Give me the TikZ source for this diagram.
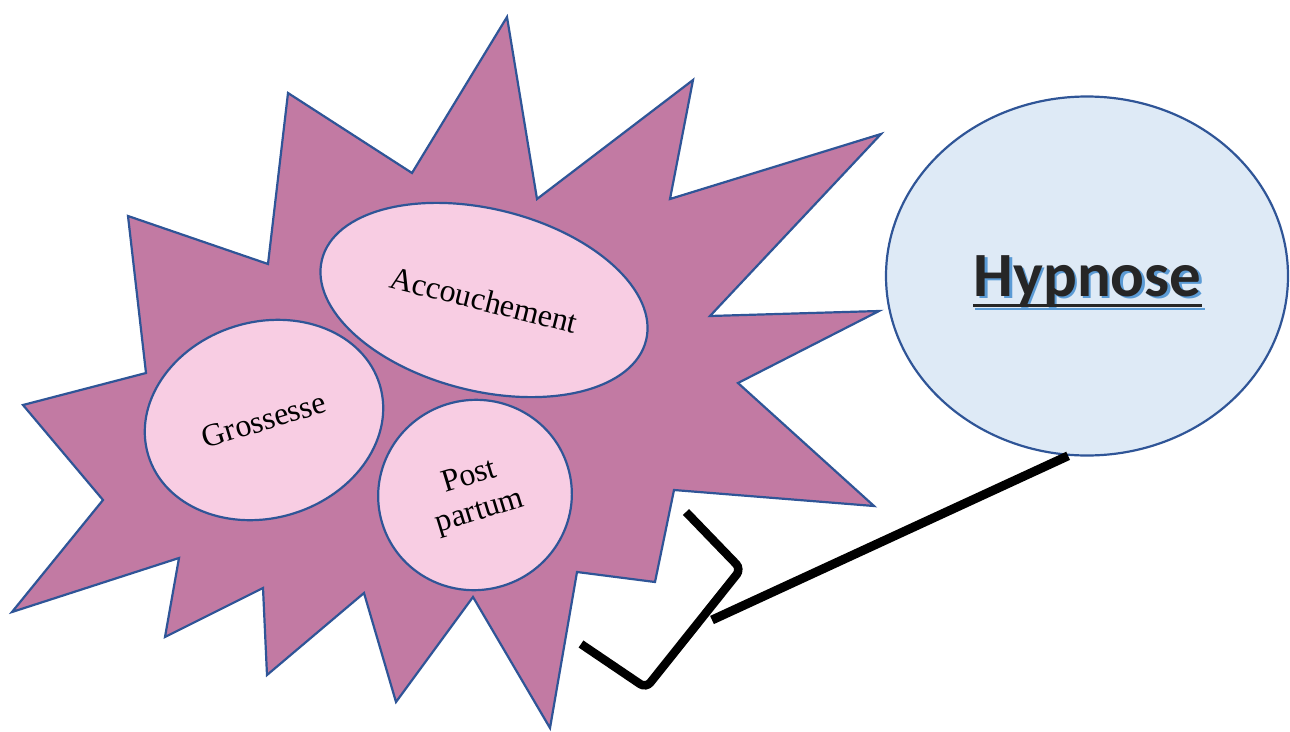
\documentclass[tikz,border=0pt]{standalone}
\usepackage{fontspec}
\setmainfont{Liberation Serif}
\newfontfamily\calib{Carlito}
\usetikzlibrary{shapes.geometric}
\definecolor{starfill}{RGB}{194,122,163}
\definecolor{edgeblue}{RGB}{47,85,151}
\definecolor{pinkfill}{RGB}{248,205,227}
\definecolor{hypfill}{RGB}{222,234,246}
\definecolor{hyptext}{RGB}{38,38,38}
\definecolor{shadowblue}{RGB}{91,155,213}
\tikzset{
  bubble/.style={ellipse, draw=edgeblue, line width=2.2pt, fill=pinkfill, inner sep=0pt,
    font=\fontsize{32}{36}\selectfont, align=center, text=black},
  hypbubble/.style={ellipse, draw=edgeblue, line width=2.2pt, fill=hypfill, inner sep=0pt},
  hypfont/.style={font=\calib\bfseries\fontsize{63}{72}\selectfont, inner sep=0pt, anchor=base},
  thickblack/.style={line width=8.5pt, black}
}
\begin{document}
\begin{tikzpicture}[x=1pt,y=-1pt]
\useasboundingbox (0,0) rectangle (1290,731);
% star burst
\draw[fill=starfill, draw=edgeblue, line width=2.2pt, line join=miter]
  (23,405) -- (146,373) -- (128,216) -- (268,264) -- (288,93) -- (412,173)
  -- (507,17) -- (537,199) -- (693,80) -- (670,199) -- (881,134) -- (710,316)
  -- (879,311) -- (738,383) -- (874,506) -- (674,490) -- (655,582) -- (577,572)
  -- (550,728) -- (473,597) -- (396,702) -- (364,593) -- (267,675) -- (263,588)
  -- (165,637) -- (179,558) -- (12,612) -- (103,500) -- cycle;
% inner bubbles
\node[bubble, minimum width=334pt, minimum height=182pt, rotate=-14] (acc) at (484,300) {Accouchement};
\node[bubble, minimum width=242pt, minimum height=196pt, rotate=17] (gro) at (264,420) {Grossesse};
\node[bubble, minimum width=194pt, minimum height=190pt, rotate=17] (post) at (475,495) {Post\\partum};
% Hypnose
\node[hypbubble, minimum width=402pt, minimum height=359pt] (hyp) at (1087,276) {};
\node[hypfont, text=shadowblue] (hypsh) at (1090,298.5) {Hypnose};
\node[hypfont, text=hyptext] (hyplab) at (1087.5,296) {Hypnose};
\draw[shadowblue, line width=2.5pt] ([xshift=2pt]hyplab.base west |- 0,309) coordinate (ulsa) -- ([xshift=3pt]hyplab.base east |- 0,309) coordinate (ulsb);
\draw[hyptext, line width=3pt] (hyplab.base west |- 0,305.5) coordinate (ula) -- (hyplab.base east |- 0,305.5) coordinate (ulb);
% bracket and connector
\coordinate (bra) at (686,512);
\coordinate (brb) at (741,569);
\coordinate (brc) at (646,688);
\coordinate (brd) at (581,644);
\coordinate (join) at (712,620);
\draw[thickblack, rounded corners=7pt] (bra) -- (brb) -- (brc) -- (brd);
\draw[thickblack, line width=9pt] (hyp.264) -- (join);
\end{tikzpicture}
\end{document}
